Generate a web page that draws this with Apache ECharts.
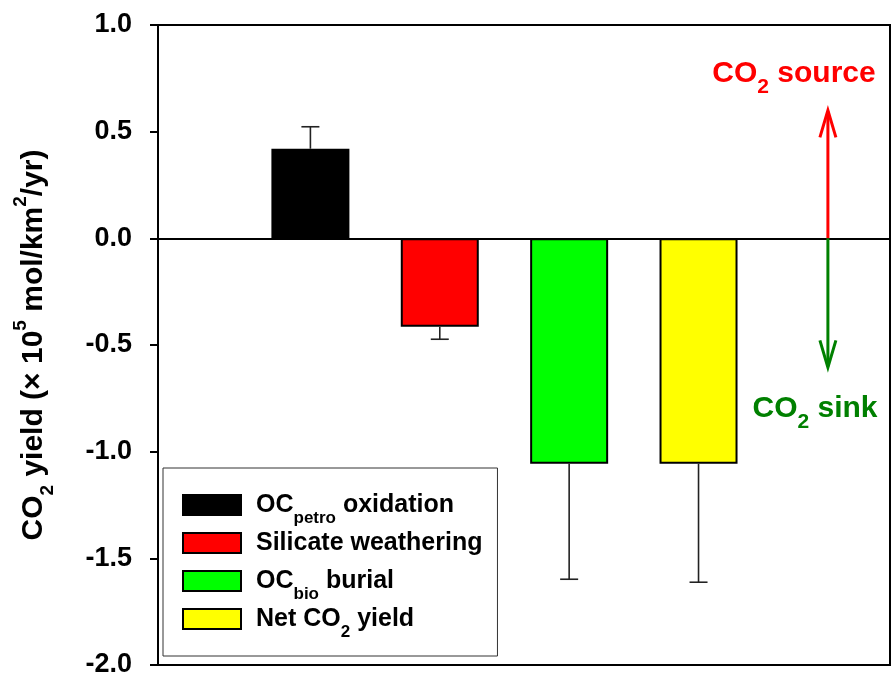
<!DOCTYPE html>
<html><head><meta charset="utf-8">
<script src="https://cdn.jsdelivr.net/npm/echarts@6/dist/echarts.min.js"></script>
<style>html,body{margin:0;padding:0;background:#fff}#chart{width:892px;height:680px}</style>
</head><body><div id="chart"></div>
<script>
// ---- data ----
const seriesNames = ['OCpetro oxidation', 'Silicate weathering', 'OCbio burial', 'Net CO2 yield'];
const legendLabels = ['OC{sub|petro} oxidation', 'Silicate weathering', 'OC{sub|bio} burial', 'Net CO{sub|2} yield'];
const barPositions = [1, 2, 3, 4];
const barValues = [0.42, -0.415, -1.057, -1.057];
const errorEnds = [0.523, -0.473, -1.598, -1.612];
const arrowPosition = 5;
const arrowEnds = [0.6, -0.605];
const yTicks = [-2.0, -1.5, -1.0, -0.5, 0.0, 0.5, 1.0];
const yAxisTitle = 'CO{sub|2} yield (× 10{sup|5} mol/km{sup|2}/yr)';
const sourceLabel = 'CO{sub|2} source';
const sinkLabel = 'CO{sub|2} sink';

// ---- styles ----
const FONT = 'Liberation Sans, Arial, Helvetica, sans-serif';
const barColors = ['#000000', '#ff0000', '#00ff00', '#ffff00'];
const arrowColors = ['#ff0000', '#008000'];

const chart = echarts.init(document.getElementById('chart'), null, {renderer: 'canvas'});

const barSeries = seriesNames.map((name, i) => ({
  type: 'bar',
  name: name,
  data: [[barPositions[i], barValues[i]]],
  barWidth: 78,
  barGap: '-100%',
  itemStyle: {color: barColors[i], borderColor: '#000', borderWidth: 2},
  emphasis: {disabled: true},
  z: 2
}));

const errorSeries = {
  type: 'custom',
  data: barPositions.map((x, i) => [x, barValues[i], errorEnds[i]]),
  z: 3,
  silent: true,
  renderItem: function (params, api) {
    const p0 = api.coord([api.value(0), api.value(1)]);
    const p1 = api.coord([api.value(0), api.value(2)]);
    const st = {stroke: '#222', lineWidth: 1.6};
    return {type: 'group', children: [
      {type: 'line', shape: {x1: p0[0], y1: p0[1], x2: p1[0], y2: p1[1]}, style: st},
      {type: 'line', shape: {x1: p1[0] - 9, y1: p1[1], x2: p1[0] + 9, y2: p1[1]}, style: st}
    ]};
  }
};

const arrowSeries = {
  type: 'custom',
  data: arrowEnds.map(e => [arrowPosition, e]),
  z: 4,
  silent: true,
  renderItem: function (params, api) {
    const base = api.coord([api.value(0), 0]);
    const tip = api.coord([api.value(0), api.value(1)]);
    const dir = tip[1] < base[1] ? 1 : -1;
    const color = arrowColors[params.dataIndex];
    const st = {stroke: color, lineWidth: 3, fill: null};
    return {type: 'group', children: [
      {type: 'line', shape: {x1: base[0], y1: base[1], x2: tip[0], y2: tip[1] + dir * 1}, style: st},
      {type: 'polyline', shape: {points: [[tip[0] - 8, tip[1] + dir * 27], [tip[0], tip[1]], [tip[0] + 8, tip[1] + dir * 27]]}, style: st}
    ]};
  }
};

const option = {
  animation: false,
  backgroundColor: '#fff',
  grid: {left: 158, right: 2, top: 25, bottom: 15, show: true, borderColor: '#000', borderWidth: 2, backgroundColor: 'transparent'},
  xAxis: {
    type: 'value', min: -0.178, max: 5.48,
    axisLine: {show: true, onZero: true, lineStyle: {color: '#000', width: 2}},
    axisTick: {show: false}, axisLabel: {show: false}, splitLine: {show: false}
  },
  yAxis: {
    type: 'value', min: yTicks[0], max: yTicks[yTicks.length - 1], interval: 0.5,
    axisLine: {show: true, onZero: false, lineStyle: {color: '#000', width: 2}},
    axisTick: {show: true, inside: false, length: 8, lineStyle: {color: '#000', width: 2}},
    axisLabel: {formatter: v => v.toFixed(1), fontSize: 27, fontWeight: 'bold', fontFamily: FONT, color: '#000', margin: 26, padding: [4, 0, 0, 0]},
    splitLine: {show: false},
    name: yAxisTitle, nameLocation: 'middle', nameRotate: 90, nameGap: 101,
    nameTextStyle: {
      fontSize: 30, fontWeight: 'bold', fontFamily: FONT, color: '#000', lineHeight: 46,
      rich: {
        sub: {fontSize: 19, fontWeight: 'bold', fontFamily: FONT, color: '#000', verticalAlign: 'bottom'},
        sup: {fontSize: 19, fontWeight: 'bold', fontFamily: FONT, color: '#000', verticalAlign: 'top'}
      }
    }
  },
  legend: {
    data: seriesNames, orient: 'vertical', left: 163, top: 468,
    padding: [15, 15, 15, 19], itemGap: -6, itemWidth: 58, itemHeight: 20,
    backgroundColor: '#fff', borderColor: '#333', borderWidth: 1, borderRadius: 0,
    selectedMode: false, icon: 'rect',
    itemStyle: {borderColor: '#000', borderWidth: 2},
    formatter: name => legendLabels[seriesNames.indexOf(name)],
    textStyle: {
      fontSize: 25, fontWeight: 'bold', fontFamily: FONT, color: '#000', lineHeight: 44, padding: [0, 0, 0, 10],
      rich: {
        sub: {fontSize: 17, fontWeight: 'bold', fontFamily: FONT, color: '#000', verticalAlign: 'bottom'}
      }
    }
  },
  graphic: [
    {type: 'text', x: 794, y: 74, z: 10, style: {text: sourceLabel, align: 'center', verticalAlign: 'middle',
      fontSize: 30, fontWeight: 'bold', fontFamily: FONT, fill: '#ff0000', lineHeight: 48,
      rich: {sub: {fontSize: 21, fontWeight: 'bold', fontFamily: FONT, fill: '#ff0000', verticalAlign: 'bottom'}}}},
    {type: 'text', x: 815, y: 409, z: 10, style: {text: sinkLabel, align: 'center', verticalAlign: 'middle',
      fontSize: 30, fontWeight: 'bold', fontFamily: FONT, fill: '#008000', lineHeight: 48,
      rich: {sub: {fontSize: 21, fontWeight: 'bold', fontFamily: FONT, fill: '#008000', verticalAlign: 'bottom'}}}}
  ],
  series: barSeries.concat([errorSeries, arrowSeries])
};
chart.setOption(option);
</script>
</body></html>
